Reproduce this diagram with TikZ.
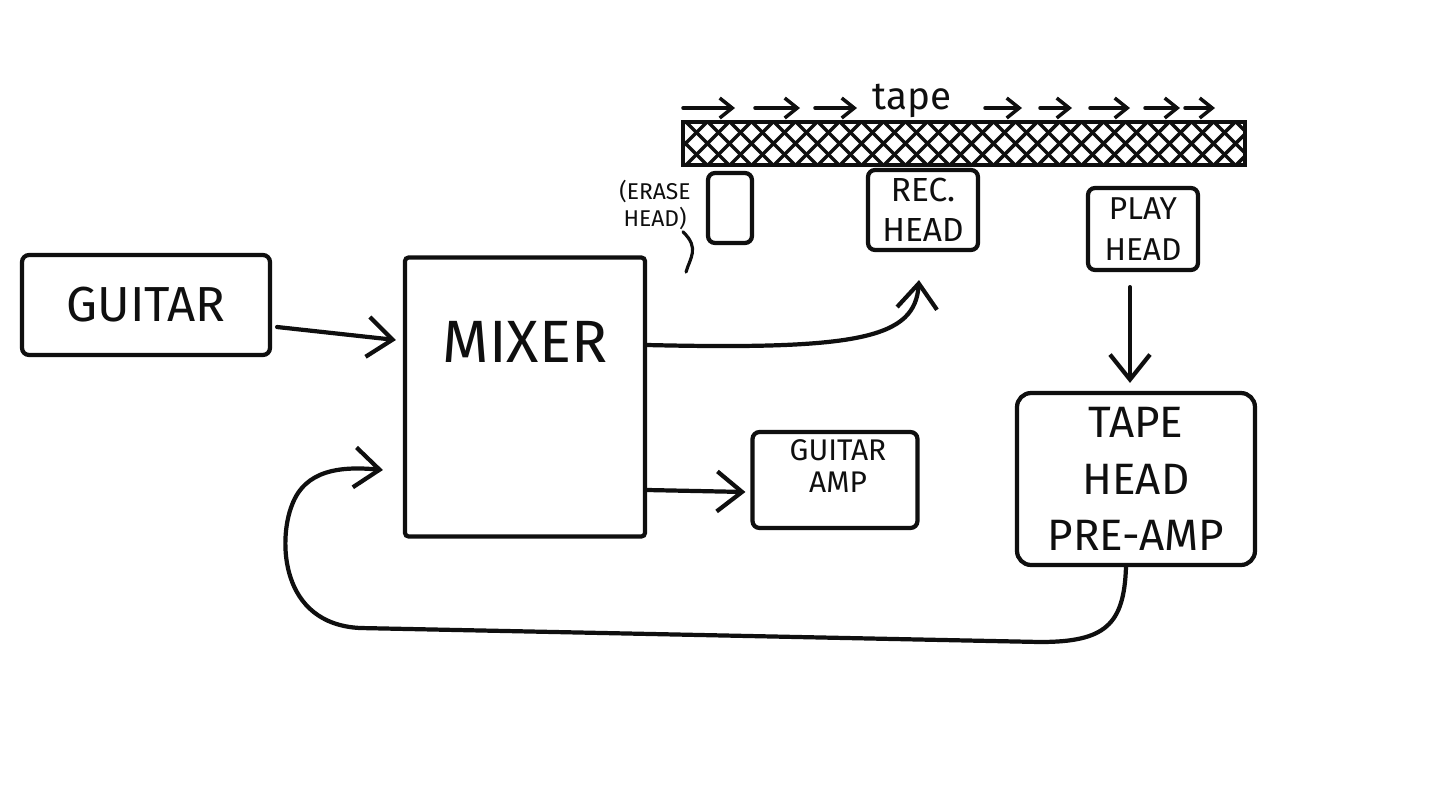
\documentclass[tikz,border=0pt]{standalone}
\usepackage{fontspec}
\setmainfont{Fira Sans}
\usepackage{xcolor}
\usetikzlibrary{positioning,calc,arrows.meta}
\definecolor{inkblack}{RGB}{15,15,15}
\definecolor{sheetwhite}{RGB}{255,255,255}
\tikzset{
  blk/.style={draw=inkblack,line width=2.4pt,rounded corners=4pt,inner sep=0pt,text=inkblack},
  conn/.style={draw=inkblack,line width=2.4pt,line cap=round,-{Straight Barb[length=5mm,width=8mm,line width=2.4pt]}},
  tapearr/.style={draw=inkblack,line width=2pt,line cap=round,-{Straight Barb[length=2.5mm,width=4mm,line width=2pt]}},
  lbl/.style={text=inkblack,inner sep=0pt,align=center}
}

\begin{document}
\begin{tikzpicture}[x=0.02cm,y=-0.02cm]
\useasboundingbox[fill=sheetwhite] (0,0) rectangle (1455,799);

\node[blk,minimum width=4.96cm,minimum height=2.0cm,font=\fontsize{28}{30}\selectfont] (guitar) at (146,305) {GUITAR};
\node[blk,rounded corners=2pt,minimum width=4.8cm,minimum height=5.58cm] (mix) at (525,397) {};
\node[lbl,font=\fontsize{34}{36}\selectfont] (mixtxt) at (525,342) {MIXER};
\node[blk,minimum width=0.88cm,minimum height=1.4cm] (erase) at (730,208) {};
\node[lbl,font=\fontsize{13}{15}\selectfont] (erasetxt) at (655,205) {(ERASE\\HEAD)};
\node[blk,minimum width=2.2cm,minimum height=1.6cm,font=\fontsize{19}{23}\selectfont,align=center] (rec) at (923,210) {REC.\\HEAD};
\node[blk,minimum width=2.2cm,minimum height=1.64cm,font=\fontsize{18}{23}\selectfont,align=center] (play) at (1143,229) {PLAY\\HEAD};
\node[blk,minimum width=3.3cm,minimum height=1.92cm] (amp) at (835,480) {};
\node[lbl,font=\fontsize{17}{18}\selectfont] (amptxt) at (838,466) {GUITAR\\AMP};
\node[blk,rounded corners=8pt,minimum width=4.76cm,minimum height=3.44cm,font=\fontsize{25}{32}\selectfont,align=center] (pre) at (1136,479) {TAPE\\HEAD\\PRE-AMP};

\begin{scope}
\clip (683,122) rectangle (1245,165);
\foreach \i in {620,642,...,1260}
  \draw[inkblack,line width=2pt] (\i,122) -- ++(43,43) (\i,165) -- ++(43,-43);
\end{scope}
\draw[inkblack,line width=2.8pt] (683,122) rectangle (1245,165);

\foreach \a/\b in {683/735,755/800,815/857,985/1022,1040/1072,1090/1130,1145/1180,1185/1215}
  \draw[tapearr] (\a,108) -- (\b,108);
\node[lbl,font=\fontsize{22}{24}\selectfont] (tapetxt) at (912,101) {tape};

\draw[inkblack,line width=1.8pt,line cap=round] ($(erasetxt.south east)+(-8,2)$) .. controls (700,248) and (690,258) .. (686,272);

\draw[conn] ($(guitar.east)+(5,22)$) -- ($(mix.west)+(-7,-57)$);
\draw[conn] ($(mix.east)+(0,-52)$) .. controls (860,350) and (915,338) .. ($(rec.south)+(-4,28)$);
\draw[conn] ($(mix.east)+(0,93)$) -- ($(amp.west)+(-5,12)$);
\draw[conn] ($(play.south)+(-13,15)$) -- ($(pre.north)+(-6,-8)$);
\draw[conn] ($(pre.south)+(-10,0)$) .. controls (1124,625) and (1105,642) .. (1040,642)
  -- (360,628) .. controls (280,624) and (278,540) .. (292,505)
  .. controls (305,470) and (340,466) .. ($(mix.west)+(-20,73)$);
\end{tikzpicture}
\end{document}
